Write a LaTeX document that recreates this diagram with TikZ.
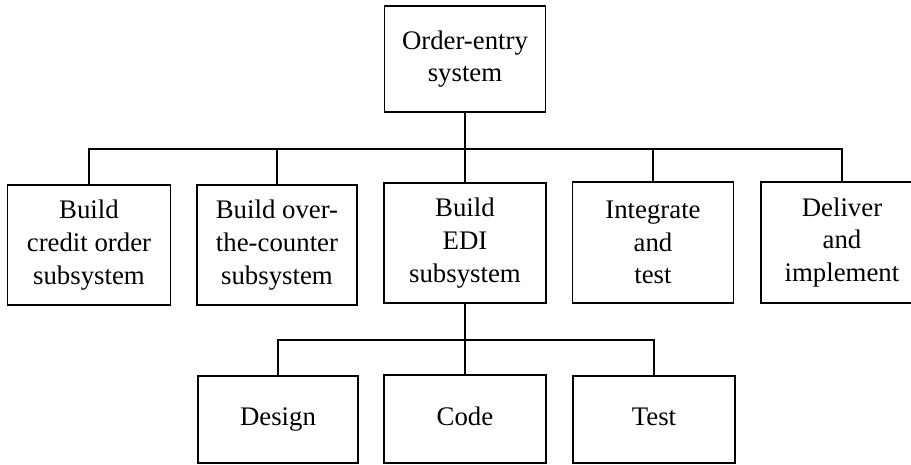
\documentclass[tikz,border=0pt]{standalone}
\usepackage{fontspec}
\setmainfont{Liberation Serif}
\begin{document}
\begin{tikzpicture}[x=0.5pt,y=-0.5pt,line join=miter,
  taskbox/.style={draw,line width=0.7pt,align=center,inner sep=0pt,
    font=\fontsize{13.4}{16.3}\selectfont},
  leafbox/.style={taskbox,text height=9pt,text depth=3pt},
  link/.style={line width=1.3pt}]
  \useasboundingbox (0,0) rectangle (911,465);
  \clip (0,0) rectangle (911,465);
%%
  % Node: order_entry
  \node[taskbox,minimum width=80.5pt,minimum height=53pt] (order_entry) at (465,59) {Order-entry\\system};
  % Node: credit_order
  \node[taskbox,minimum width=81.5pt,minimum height=60pt] (credit_order) at (89,245) {Build\\credit order\\subsystem};
  % Node: over_counter
  \node[taskbox,minimum width=80pt,minimum height=60pt] (over_counter) at (277,245) {Build over-\\the-counter\\subsystem};
  % Node: build_edi
  \node[taskbox,minimum width=81pt,minimum height=60pt] (build_edi) at (465,243) {Build\\EDI\\subsystem};
  % Node: integrate_test
  \node[taskbox,minimum width=80.5pt,minimum height=60.5pt] (integrate_test) at (653,242.5) {Integrate\\and\\test};
  % Node: deliver
  \node[taskbox,minimum width=81pt,minimum height=60.5pt] (deliver) at (842,242.5) {Deliver\\and\\implement};
  % Node: design
  \node[leafbox,minimum width=80pt,minimum height=43.5pt] (design) at (278,419.5) {Design};
  % Node: code
  \node[leafbox,minimum width=81pt,minimum height=44pt] (code) at (465,419) {Code};
  % Node: test
  \node[leafbox,minimum width=81pt,minimum height=43.5pt] (test) at (654,419.5) {Test};
%
  \coordinate (top_bar) at (465,149);
  \coordinate (edi_bar) at (465,340);
  % Edge: order_entry -> subsystems
  \draw[link] (order_entry.south) -- (top_bar);
  \foreach \child in {credit_order,over_counter,build_edi,integrate_test,deliver}
    \draw[link] (top_bar) -| (\child.north);
  % Edge: build_edi -> design, code, test
  \draw[link] (build_edi.south) -- (edi_bar);
  \foreach \child in {design,code,test}
    \draw[link] (edi_bar) -| (\child.north);
%
\end{tikzpicture}
\end{document}
